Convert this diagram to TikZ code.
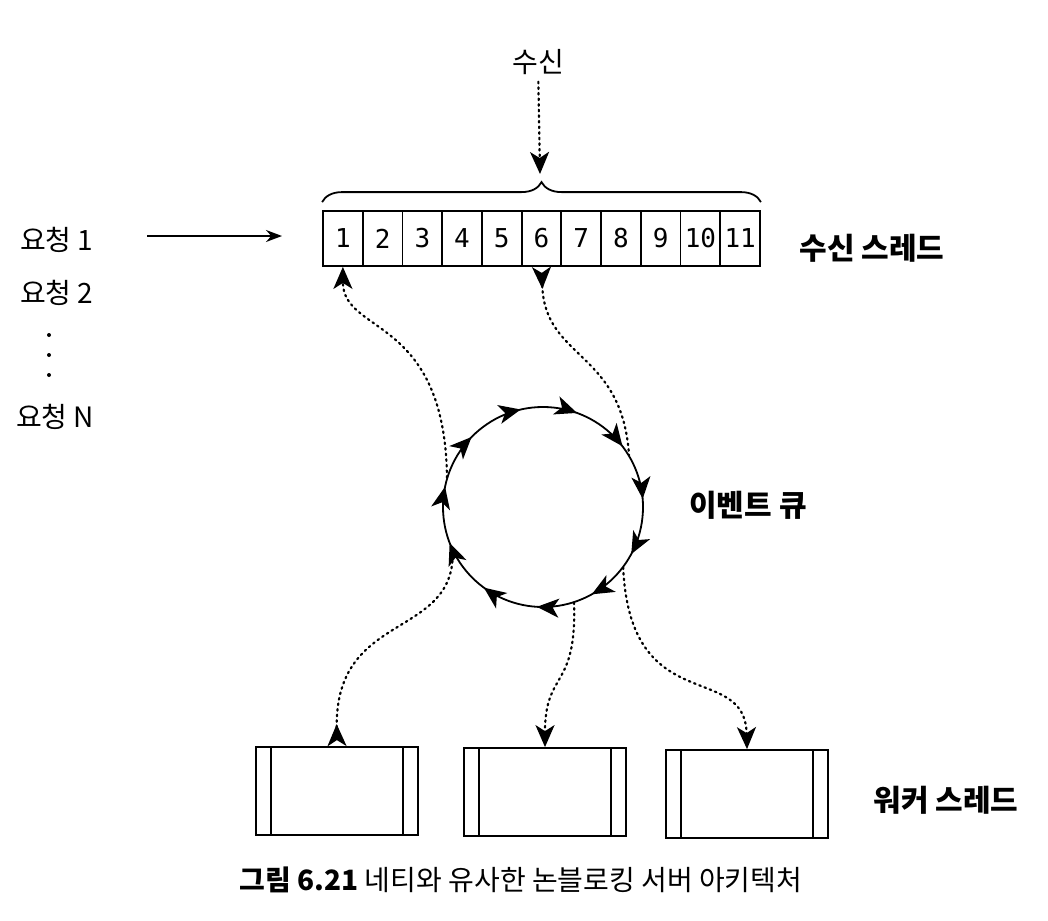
\documentclass[tikz,border=0pt]{standalone}
\usepackage{fontspec}
\setmainfont{Noto Sans CJK KR}
\newfontfamily\cellfont{DejaVu Sans Mono}
\usetikzlibrary{arrows.meta,positioning,decorations.pathreplacing,decorations.markings}

\begin{document}
\begin{tikzpicture}[
  x=0.5pt, y=-0.5pt,
  cell/.style={
    draw,
    line width=0.9pt,
    minimum width=19.86pt,
    minimum height=27.5pt,
    inner sep=0pt,
    font=\cellfont\fontsize{13}{14}\selectfont
  },
  worker/.style={
    draw,
    line width=0.9pt,
    minimum width=81pt,
    minimum height=44pt,
    inner sep=0pt
  },
  req/.style={
    anchor=west,
    font=\fontsize{14}{15}\selectfont
  },
  tag/.style={
    font=\fontsize{15}{16}\selectfont\bfseries
  },
  flow/.style={
    line width=1.1pt,
    line cap=round,
    dash pattern=on 0.8pt off 2pt,
    -{Stealth[length=11pt,width=9.5pt,inset=3pt]}
  },
  flowback/.style={
    line width=1.1pt,
    line cap=round,
    dash pattern=on 0.8pt off 2pt,
    {Stealth[length=11pt,width=9.5pt,inset=3pt,reversed]}-
  },
  ring/.style={
    line width=0.9pt,
    postaction={decorate},
    decoration={markings,
      mark=between positions 0.078 and 1 step 0.0909 with {\arrow{Stealth[length=11pt,width=9.5pt,inset=3pt]}}}
  }
  ]
  \useasboundingbox (0,0) rectangle (1048,920);

  % requests
  \node[req] (req1) at (13,240) {요청 1};
  \node[req] (req2) at (13,293) {요청 2};
  \node[req] (reqn) at (9,417) {요청 N};
  \foreach \y in {335,355,375}
    \fill (49,\y) circle[radius=2];
  \coordinate (rin) at (147,236);
  \coordinate (rout) at (282,236);
  \draw[line width=0.9pt,-{Stealth[length=8pt,width=6pt]}] (rin) -- (rout);

  % receiver thread
  \foreach \i in {1,...,11}
    \node[cell] (c\i) at ({323+39.73*(\i-0.5)},238.5) {\i};
  \node[tag] (recvthread) at (872,248) {수신 스레드};
  \draw[line width=0.9pt,decorate,decoration={brace,amplitude=10pt}]
    ([yshift=4pt]c1.north west) -- ([yshift=4pt]c11.north east);
  \node[font=\fontsize{14}{15}\selectfont] (recv) at (538,62) {수신};
  \coordinate (tip) at (540,174);
  \draw[flow] (recv) -- (tip);

  % event queue
  \node[circle, minimum size=100pt, inner sep=0pt] (q) at (543,507) {};
  \draw[ring] (q.center) circle[radius=100];
  \node[tag] (qlabel) at (748,505) {이벤트 큐};

  \draw[flow] (q.163) .. controls (445,315) and (343,335) .. (c1.south);
  \draw[flowback] (c6.south) .. controls (545,360) and (622,350) .. (q.31);

  % workers
  \node[worker] (w1) at (337,791) {};
  \node[worker] (w2) at (545,792) {};
  \node[worker] (w3) at (747,794) {};
  \foreach \w in {w1,w2,w3} {
    \draw[line width=0.9pt] ([xshift=8pt]\w.north west) -- ([xshift=8pt]\w.south west);
    \draw[line width=0.9pt] ([xshift=-8pt]\w.north east) -- ([xshift=-8pt]\w.south east);
  }
  \node[tag] (wlabel) at (946,800) {워커 스레드};

  \draw[flowback] (w1.north) .. controls (335,610) and (455,640) .. (q.206);
  \draw[flow] (q.-72) .. controls (577,690) and (545,670) .. (w2.north);
  \draw[flow] (q.-37) .. controls (630,720) and (745,660) .. (w3.north);

  % caption
  \node[font=\fontsize{14}{15}\selectfont] (caption) at (521,880)
    {\textbf{그림 6.21} 네티와 유사한 논블로킹 서버 아키텍처};
\end{tikzpicture}
\end{document}
